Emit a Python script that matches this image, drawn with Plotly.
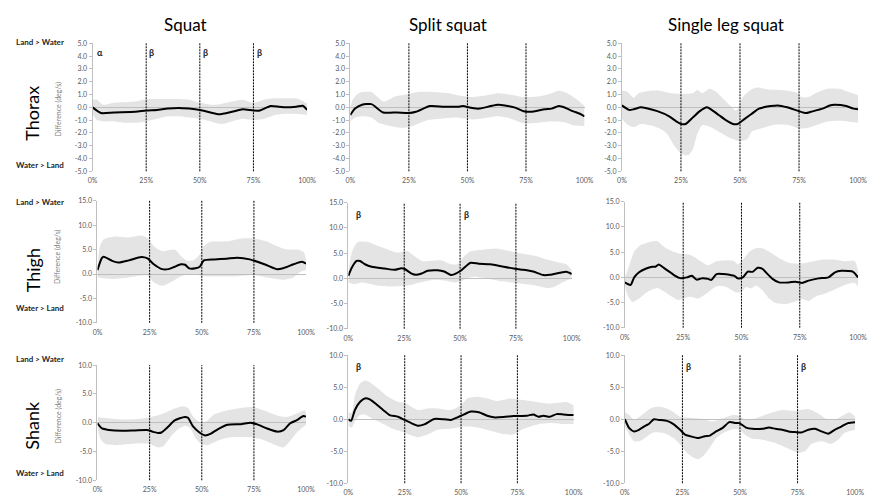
import plotly.graph_objects as go

# ---------------- DATA ----------------
COLUMNS = ["Squat", "Split squat", "Single leg squat"]
ROWS = ["Thorax", "Thigh", "Shank"]
X_TICKS = [0, 25, 50, 75, 100]
X_TICK_TEXT = ["0%", "25%", "50%", "75%", "100%"]
PHASE_LINES = [25, 50, 75]
Y_TICKS_THORAX = [-5, -4, -3, -2, -1, 0, 1, 2, 3, 4, 5]
Y_TICKS_THIGH = [-10, -5, 0, 5, 10, 15]
Y_TICKS_SHANK = [-10, -5, 0, 5, 10]

# Thorax - Squat
THX_SQ_MEAN_X = [0, 4, 10, 20, 25, 30, 35, 40, 45, 50, 55, 59, 65, 70, 75, 78, 83, 87, 90, 95, 98, 100]
THX_SQ_MEAN_Y = [0, -0.45, -0.4, -0.35, -0.25, -0.2, -0.1, -0.05, -0.1, -0.2, -0.4, -0.55, -0.35, -0.15, -0.25, -0.25, 0.1, 0.05, 0.0, 0.05, 0.12, -0.2]
THX_SQ_UP_X = [0, 2, 5, 10, 20, 25, 30, 35, 40, 45, 50, 55, 58, 65, 70, 75, 80, 85, 90, 95, 100]
THX_SQ_UP_Y = [0.6, 0.6, 0.2, 0.35, 0.45, 0.65, 0.65, 0.65, 0.65, 0.6, 0.35, 0.2, 0.2, 0.45, 0.6, 0.35, 0.6, 0.7, 0.7, 0.7, 0.3]
THX_SQ_LO_X = [0, 2, 5, 10, 15, 20, 25, 30, 35, 40, 45, 50, 55, 60, 65, 70, 75, 80, 85, 90, 95, 100]
THX_SQ_LO_Y = [-0.5, -1.0, -1.1, -1.1, -1.2, -1.2, -1.1, -0.9, -0.7, -0.7, -0.8, -0.9, -1.1, -1.3, -1.1, -0.9, -1.0, -0.9, -0.6, -0.5, -0.5, -0.6]

# Thorax - Split squat
THX_SPL_MEAN_X = [0, 2, 5, 9, 14, 20, 25, 28, 34, 40, 46, 48, 52, 55, 60, 63, 66, 70, 74, 77, 83, 86, 89, 92, 95, 98, 100]
THX_SPL_MEAN_Y = [-0.6, -0.1, 0.2, 0.25, -0.4, -0.4, -0.45, -0.35, 0.1, 0.05, 0.05, 0.1, -0.05, -0.1, 0.1, 0.2, 0.15, 0.0, -0.3, -0.35, -0.15, -0.1, 0.1, -0.05, -0.3, -0.5, -0.7]
THX_SPL_UP_X = [0, 1, 3, 5, 9, 11, 14, 16, 19, 25, 29, 35, 42, 47, 52, 57, 63, 68, 74, 80, 85, 89, 92, 96, 100]
THX_SPL_UP_Y = [0.0, 0.6, 1.05, 1.2, 1.2, 0.9, 0.45, 0.55, 0.85, 1.05, 1.2, 1.2, 1.1, 0.9, 0.8, 0.9, 1.1, 1.0, 0.8, 0.85, 1.05, 1.3, 1.15, 0.7, 0.1]
THX_SPL_LO_X = [0, 2, 5, 9, 12, 17, 22, 26, 32, 38, 45, 52, 57, 63, 68, 74, 80, 85, 91, 95, 100]
THX_SPL_LO_Y = [-1.1, -0.8, -0.7, -0.8, -1.2, -1.45, -1.6, -1.5, -1.05, -0.9, -0.8, -0.95, -0.85, -0.7, -0.85, -1.25, -1.2, -1.1, -1.15, -1.4, -1.45]

# Thorax - Single leg squat
THX_SLS_MEAN_X = [0, 3, 5, 8, 10, 15, 20, 23, 25, 27, 30, 33, 36, 38, 41, 44, 47, 49, 52, 55, 58, 60, 63, 66, 70, 75, 78, 80, 85, 88, 90, 95, 98, 100]
THX_SLS_MEAN_Y = [0.15, -0.2, -0.15, 0.0, -0.05, -0.3, -0.7, -1.1, -1.3, -1.3, -0.8, -0.3, 0.0, -0.2, -0.6, -1.0, -1.3, -1.3, -0.9, -0.5, -0.1, 0.0, 0.1, 0.15, 0.0, -0.3, -0.45, -0.35, -0.1, 0.15, 0.2, 0.1, -0.1, -0.15]
THX_SLS_UP_X = [0, 2, 5, 7, 12, 16, 21, 25, 30, 32, 34, 37, 40, 43, 46, 48, 49, 51, 54, 57, 62, 68, 74, 76, 79, 82, 87, 92, 96, 100]
THX_SLS_UP_Y = [1.3, 1.25, 0.75, 1.1, 1.3, 1.3, 1.1, 1.05, 1.1, 1.35, 1.1, 1.45, 1.2, 0.65, 0.1, -0.25, -0.15, 0.75, 1.3, 1.55, 1.4, 1.35, 1.15, 0.8, 0.8, 1.1, 1.45, 1.45, 1.2, 0.95]
THX_SLS_LO_X = [0, 2, 5, 8, 12, 16, 19, 22, 25, 28, 30, 32, 34, 37, 41, 46, 50, 53, 55, 60, 65, 71, 75, 79, 83, 87, 93, 97, 100]
THX_SLS_LO_Y = [-0.9, -1.3, -1.55, -1.3, -1.4, -1.65, -2.05, -2.95, -3.6, -3.75, -3.3, -2.05, -1.4, -1.5, -1.9, -2.4, -2.65, -2.5, -1.9, -1.6, -1.35, -1.4, -1.65, -1.6, -1.35, -1.1, -1.05, -1.15, -1.2]

# Thigh - Squat
THI_SQ_MEAN_X = [0, 2, 3, 7, 10, 15, 21, 24, 27, 31, 34, 37, 40, 42, 44, 47, 49, 51, 56, 62, 67, 73, 80, 86, 89, 94, 98, 100]
THI_SQ_MEAN_Y = [0.8, 3.2, 3.55, 2.7, 2.35, 2.8, 3.5, 3.2, 2.0, 1.0, 1.0, 1.5, 2.0, 1.9, 1.15, 1.2, 1.5, 2.8, 3.0, 3.15, 3.35, 3.0, 2.0, 1.0, 1.2, 2.0, 2.5, 2.15]
THI_SQ_UP_X = [0, 1, 3, 8, 15, 21, 24, 27, 31, 37, 40, 43, 46, 49, 51, 54, 62, 69, 75, 81, 86, 91, 96, 99, 100]
THI_SQ_UP_Y = [1.7, 5.4, 7.1, 7.7, 7.5, 7.9, 7.4, 5.7, 4.7, 5.0, 3.7, 2.7, 2.8, 4.0, 5.7, 6.6, 6.7, 7.3, 7.3, 6.7, 5.7, 5.0, 5.0, 4.4, 2.7]
THI_SQ_LO_X = [0, 4, 8, 15, 21, 24, 27, 30, 32, 35, 39, 42, 46, 49, 53, 65, 75, 81, 86, 89, 94, 97, 100]
THI_SQ_LO_Y = [-0.7, -0.9, -1.0, -0.7, -0.3, -0.3, -1.7, -2.35, -2.35, -1.7, -0.7, -0.2, -0.2, -0.3, -0.5, -0.5, -0.2, -0.7, -1.0, -1.2, -0.7, 0.35, 0.8]

# Thigh - Split squat
THI_SPL_MEAN_X = [0, 1.5, 3.7, 5.2, 7.4, 10.4, 16.3, 20.7, 23.7, 25.1, 28.1, 30.3, 32.5, 35.5, 39.9, 42.9, 45.9, 47.3, 50.3, 54.7, 58.4, 63.6, 69.5, 74, 78.4, 82.8, 87.3, 90.2, 94.7, 97.6, 100]
THI_SPL_MEAN_Y = [0.5, 2.1, 3.45, 3.45, 2.8, 2.3, 1.95, 1.7, 2.0, 1.9, 1.0, 0.7, 0.9, 1.5, 1.6, 1.35, 0.65, 0.8, 1.5, 3.1, 2.9, 2.8, 2.3, 1.95, 1.7, 1.35, 0.65, 0.7, 1.1, 1.3, 0.85]
THI_SPL_UP_X = [0, 1.5, 3.7, 5.2, 8.9, 13.3, 17.8, 22.2, 26.6, 29.6, 33.3, 37, 41.4, 45.9, 48.8, 51.8, 54.7, 60.7, 66.6, 72.5, 78.4, 84.3, 90.2, 94.7, 97.6, 100]
THI_SPL_UP_Y = [1.35, 5.1, 7.0, 7.3, 7.2, 6.4, 5.7, 5.1, 5.4, 4.4, 3.4, 3.5, 3.6, 2.8, 2.8, 4.4, 5.4, 5.7, 5.9, 5.4, 4.9, 4.4, 3.6, 3.1, 2.8, 1.6]
THI_SPL_LO_X = [0, 3, 5.9, 8.9, 13.3, 19.2, 25.1, 29.6, 34, 38.5, 42.9, 47.3, 50.3, 53.3, 56.2, 60.7, 66.6, 72.5, 78.4, 84.3, 88.8, 91.7, 94.7, 97.6, 100]
THI_SPL_LO_Y = [-0.8, -1.1, -0.8, -1.0, -1.45, -1.6, -1.45, -1.1, -0.65, -0.3, -0.45, -0.8, -0.65, 0.05, 0.3, 0.05, -0.45, -0.8, -1.1, -1.45, -1.9, -1.75, -1.1, -0.45, -0.1]

# Thigh - Single leg squat
THI_SLS_MEAN_X = [0, 1.1, 2.5, 4, 6.1, 8.9, 11.7, 13.1, 14.5, 16.7, 19.5, 21.6, 23.7, 26.6, 28.7, 30.8, 32.9, 35.7, 37.1, 39.3, 42.1, 44.9, 47, 48.4, 50.6, 52.7, 54.8, 56.9, 59, 61.2, 63.3, 66.1, 70.3, 73.2, 76, 78.8, 83.1, 87.3, 90.1, 92.9, 95.8, 97.9, 100]
THI_SLS_MEAN_Y = [-1.0, -1.3, -1.5, 0.0, 1.0, 1.7, 2.1, 2.1, 2.55, 1.9, 1.0, 0.3, -0.15, 0.0, 0.3, -0.45, -0.2, -0.3, -0.5, 0.65, 0.65, 0.5, 0.3, -0.2, 0.0, 1.15, 1.1, 1.9, 1.7, 0.65, -0.3, -1.0, -1.0, -0.85, -1.1, -0.65, -0.2, 0.0, 1.0, 1.3, 1.25, 1.1, 0.0]
THI_SLS_UP_X = [0, 1.8, 4, 6.8, 11, 13.8, 16.7, 20.9, 23.7, 28, 32.2, 35.7, 39.3, 44.9, 47, 48.4, 50.6, 53.4, 56.2, 59, 61.9, 66.1, 70.3, 74.6, 78.8, 84.5, 90.1, 94.4, 98.6, 100]
THI_SLS_UP_Y = [0, 2.25, 5.1, 6.4, 7.05, 7.2, 6.1, 5.1, 4.7, 4.5, 3.3, 2.4, 3.2, 3.4, 3.2, 2.55, 3.5, 5.1, 5.8, 5.8, 5.1, 3.85, 2.9, 2.7, 3.0, 3.5, 3.5, 3.2, 3.2, 1.3]
THI_SLS_LO_X = [0, 1.1, 3.2, 6.1, 9.6, 13.8, 16.7, 20.2, 23, 25.1, 28, 31.5, 35, 39.3, 43.5, 47.7, 49.9, 52, 54.1, 56.2, 59, 61.9, 64.7, 68.9, 73.2, 76, 78.8, 81.6, 85.9, 90.1, 94.4, 98.6, 100]
THI_SLS_LO_Y = [-1.6, -3.5, -4.9, -4.2, -2.9, -2.1, -2.75, -3.85, -4.5, -4.2, -3.85, -4.2, -3.2, -1.75, -1.9, -3.0, -2.9, -1.9, -2.2, -1.6, -2.55, -4.2, -5.1, -5.3, -4.8, -4.3, -4.7, -3.85, -3.2, -2.35, -1.5, -1.1, -1.75]

# Shank - Squat
SHK_SQ_MEAN_X = [0, 2.2, 5.4, 11.7, 18, 24.4, 26.7, 29.1, 30.7, 33.9, 37, 41.8, 43.4, 45.7, 48.9, 51.3, 54.4, 57.6, 62.3, 68.7, 73.4, 76.6, 81.3, 86.1, 89.2, 92.4, 95.6, 98.7, 100]
SHK_SQ_MEAN_Y = [-0.1, -1.0, -1.25, -1.4, -1.35, -1.3, -1.6, -1.8, -1.7, -0.7, 0.4, 1.0, 0.85, -0.6, -1.7, -2.2, -1.9, -1.15, -0.35, -0.25, 0.0, -0.3, -1.0, -1.55, -1.3, -0.1, 0.45, 1.15, 1.05]
SHK_SQ_UP_X = [0, 2.2, 7, 14.9, 22.8, 27.5, 32.3, 37, 41, 43.4, 45.7, 48.1, 50.5, 52.8, 56, 62.3, 68.7, 75, 79.7, 86.1, 90.8, 95.6, 99.5, 100]
SHK_SQ_UP_Y = [1.0, 0.85, 0.7, 0.55, 0.75, 1.15, 1.7, 2.45, 2.85, 2.55, 1.15, 0.3, 0.0, 0.4, 1.45, 2.15, 2.55, 2.7, 2.15, 1.25, 1.0, 1.6, 2.15, 1.4]
SHK_SQ_LO_X = [0, 1.4, 3.8, 8.5, 14.9, 21.2, 25.2, 29.1, 31.5, 35.4, 38.6, 41.8, 44.2, 47.3, 49.7, 52.8, 57.6, 63.9, 73.4, 79.7, 86.1, 89.2, 92.4, 95.6, 98.7, 100]
SHK_SQ_LO_Y = [-0.85, -2.85, -3.7, -3.9, -3.7, -3.55, -3.7, -4.3, -4.1, -2.3, -1.15, -0.55, -0.85, -2.85, -3.7, -3.9, -3.15, -2.55, -2.55, -3.0, -4.0, -4.3, -3.15, -1.7, -0.7, -0.3]

# Shank - Split squat
SHK_SPL_MEAN_X = [0, 1.2, 2.9, 5.1, 7.3, 9.5, 12.5, 15.4, 18.3, 22, 24.9, 27.9, 30.8, 33.7, 38.1, 42.5, 45.5, 48.4, 51.3, 54.3, 57.9, 61.6, 64.5, 68.9, 73.3, 79.2, 82.1, 84.3, 86.5, 89.4, 92.4, 95.3, 98.2, 100]
SHK_SPL_MEAN_Y = [0, -0.25, 1.45, 2.7, 3.25, 3.1, 2.3, 1.45, 0.65, 0.4, -0.1, -0.6, -1.0, -0.8, 0.05, 0.0, -0.1, 0.3, 0.75, 1.2, 1.1, 0.55, 0.3, 0.35, 0.5, 0.55, 0.75, 0.4, 0.55, 0.4, 0.8, 0.75, 0.65, 0.65]
SHK_SPL_UP_X = [0, 1.5, 2.9, 5.1, 7.3, 9.5, 13.2, 17.6, 22, 24.9, 27.9, 30.8, 35.2, 39.6, 45.5, 49.9, 52.8, 57.2, 61.6, 66, 71.8, 77.7, 83.6, 89.4, 93.8, 96.8, 100]
SHK_SPL_UP_Y = [1.1, 1.0, 3.75, 5.55, 6.05, 5.8, 4.8, 3.5, 2.7, 2.6, 1.95, 1.45, 1.7, 1.7, 1.45, 2.2, 3.25, 3.5, 3.25, 2.85, 3.25, 3.0, 2.7, 2.45, 2.6, 2.7, 2.2]
SHK_SPL_LO_X = [0, 1.5, 2.9, 5.1, 7.3, 10.3, 14.7, 19.1, 23.5, 27.9, 30.8, 35.2, 39.6, 45.5, 51.3, 57.2, 63.1, 68.9, 73.3, 77.7, 83.6, 89.4, 95.3, 100]
SHK_SPL_LO_Y = [-1.0, -1.3, -0.35, 0.65, 0.75, 0.15, -0.6, -1.4, -1.9, -2.5, -2.8, -2.4, -1.65, -1.5, -1.15, -1.3, -1.8, -2.3, -2.4, -1.5, -0.85, -0.6, -0.75, -0.75]

# Shank - Single leg squat
SHK_SLS_MEAN_X = [0, 1.9, 4, 6.1, 9, 10.4, 12.6, 14.7, 18.3, 21.1, 24, 26.1, 28.3, 31.9, 34.7, 36.9, 39, 42.6, 45.4, 48.3, 49.7, 52.6, 55.4, 59.7, 62.6, 65.4, 68.3, 71.1, 74, 76.9, 79.7, 82.6, 85.4, 88.3, 91.1, 94, 96.9, 100]
SHK_SLS_MEAN_Y = [0, -1.4, -1.9, -1.65, -1.0, -0.75, 0.0, -0.1, -0.25, -0.75, -1.65, -2.4, -2.65, -2.95, -2.65, -2.55, -2.05, -1.3, -0.45, -0.6, -0.6, -1.3, -1.5, -1.5, -1.3, -1.5, -1.65, -1.9, -2.0, -2.05, -1.65, -1.5, -1.9, -2.25, -1.65, -1.15, -0.6, -0.45]
SHK_SLS_UP_X = [0, 1.9, 4, 6.9, 11.1, 14, 16.9, 19.7, 24, 28.3, 34, 38.3, 42.6, 46.9, 49.7, 52.6, 56.9, 62.6, 68.3, 74, 79.7, 84, 88.3, 91.1, 95.4, 97.6, 100]
SHK_SLS_UP_Y = [1.1, 0.65, -0.1, 0.55, 1.7, 1.95, 1.85, 1.45, 0.4, 0.25, 0.05, -0.35, 0.15, 0.65, 0.55, -0.1, 0.15, 0.9, 1.45, 1.3, 1.6, 0.9, -0.1, -0.1, 0.75, 1.1, 0.4]
SHK_SLS_LO_X = [0, 1.9, 4, 6.9, 9.7, 12.6, 16.9, 21.1, 24, 26.9, 29.7, 31.9, 34, 36.9, 39.7, 42.6, 46.9, 49.7, 52.6, 55.4, 59.7, 65.4, 71.1, 75.4, 78.3, 81.1, 85.4, 89.7, 92.6, 95.4, 100]
SHK_SLS_LO_Y = [-1.15, -2.4, -3.45, -3.35, -2.65, -2.05, -2.15, -2.95, -3.95, -5.25, -6.0, -6.25, -5.75, -4.45, -2.95, -2.15, -1.55, -1.65, -2.55, -3.05, -3.2, -3.7, -4.6, -5.25, -5.0, -3.85, -3.45, -3.85, -3.2, -2.15, -1.65]

# Significance markers: (row, col, x, y, symbol)
MARKERS = [
    (0, 0, 1.0, 4.3, "α"), (0, 0, 25.6, 4.3, "β"), (0, 0, 50.6, 4.3, "β"), (0, 0, 75.6, 4.3, "β"),
    (1, 1, 2.5, 12.6, "β"), (1, 1, 50.8, 12.6, "β"),
    (2, 1, 2.5, 8.2, "β"),
    (2, 2, 25.6, 8.2, "β"), (2, 2, 75.6, 8.2, "β"),
]

# ---------------- LAYOUT ----------------
W, H = 871, 499
FONT = "Lato"
# pixel boxes of each plot area: (left, right, top, bottom)
BOXES = [
    [(89, 307, 39, 169), (351, 589, 39, 169), (627, 867, 39, 169)],
    [(94, 306, 199, 323), (349, 576, 201, 329), (630, 867, 200, 328)],
    [(94, 306, 366, 483), (349, 578, 356, 486), (630, 864, 356, 486)],
]
Y_RANGES = [(-5, 5), (-10, 15), (-10, 10)]
Y_TICKS = [Y_TICKS_THORAX, Y_TICKS_THIGH, Y_TICKS_SHANK]

SERIES = [
    [(THX_SQ_MEAN_X, THX_SQ_MEAN_Y, THX_SQ_UP_X, THX_SQ_UP_Y, THX_SQ_LO_X, THX_SQ_LO_Y),
     (THX_SPL_MEAN_X, THX_SPL_MEAN_Y, THX_SPL_UP_X, THX_SPL_UP_Y, THX_SPL_LO_X, THX_SPL_LO_Y),
     (THX_SLS_MEAN_X, THX_SLS_MEAN_Y, THX_SLS_UP_X, THX_SLS_UP_Y, THX_SLS_LO_X, THX_SLS_LO_Y)],
    [(THI_SQ_MEAN_X, THI_SQ_MEAN_Y, THI_SQ_UP_X, THI_SQ_UP_Y, THI_SQ_LO_X, THI_SQ_LO_Y),
     (THI_SPL_MEAN_X, THI_SPL_MEAN_Y, THI_SPL_UP_X, THI_SPL_UP_Y, THI_SPL_LO_X, THI_SPL_LO_Y),
     (THI_SLS_MEAN_X, THI_SLS_MEAN_Y, THI_SLS_UP_X, THI_SLS_UP_Y, THI_SLS_LO_X, THI_SLS_LO_Y)],
    [(SHK_SQ_MEAN_X, SHK_SQ_MEAN_Y, SHK_SQ_UP_X, SHK_SQ_UP_Y, SHK_SQ_LO_X, SHK_SQ_LO_Y),
     (SHK_SPL_MEAN_X, SHK_SPL_MEAN_Y, SHK_SPL_UP_X, SHK_SPL_UP_Y, SHK_SPL_LO_X, SHK_SPL_LO_Y),
     (SHK_SLS_MEAN_X, SHK_SLS_MEAN_Y, SHK_SLS_UP_X, SHK_SLS_UP_Y, SHK_SLS_LO_X, SHK_SLS_LO_Y)],
]


def px(x):
    return x / W


def py(y):
    return 1 - y / H


fig = go.Figure()
layout = dict(
    width=W, height=H, margin=dict(l=0, r=0, t=0, b=0, pad=0),
    paper_bgcolor="white", plot_bgcolor="white", showlegend=False,
    font=dict(family=FONT, color="#595959"),
)
shapes = []
annotations = []

for r in range(3):
    for c in range(3):
        k = r * 3 + c + 1
        xn = "x" if k == 1 else f"x{k}"
        yn = "y" if k == 1 else f"y{k}"
        mx, my, ux, uy, lx, ly = SERIES[r][c]
        fig.add_trace(go.Scatter(x=lx, y=ly, mode="lines", xaxis=xn, yaxis=yn,
                                 line=dict(width=0, shape="spline", smoothing=0.6),
                                 hoverinfo="skip"))
        fig.add_trace(go.Scatter(x=ux, y=uy, mode="lines", xaxis=xn, yaxis=yn,
                                 line=dict(width=0, shape="spline", smoothing=0.6),
                                 fill="tonexty", fillcolor="rgba(191,191,191,0.42)",
                                 hoverinfo="skip"))
        fig.add_trace(go.Scatter(x=mx, y=my, mode="lines", xaxis=xn, yaxis=yn,
                                 line=dict(color="black", width=2, shape="spline", smoothing=0.6)))
        L, R, T, B = BOXES[r][c]
        xkey = "xaxis" if k == 1 else f"xaxis{k}"
        ykey = "yaxis" if k == 1 else f"yaxis{k}"
        layout[xkey] = dict(domain=[px(L), px(R)], range=[0, 100], anchor=yn,
                            showgrid=False, zeroline=False, showline=False, ticks="",
                            tickvals=X_TICKS, ticktext=X_TICK_TEXT, ticklabelstandoff=4,
                            tickfont=dict(size=7, color="#595959", family=FONT))
        yt = Y_TICKS[r]
        layout[ykey] = dict(domain=[py(B), py(T)], range=list(Y_RANGES[r]), anchor=xn,
                            showgrid=False, zeroline=True, zerolinecolor="#bfbfbf",
                            zerolinewidth=1, showline=True, linecolor="#bfbfbf",
                            linewidth=1, ticks="outside", ticklen=3, tickcolor="#bfbfbf",
                            tickvals=yt, ticktext=[f"{v:.1f}" for v in yt],
                            tickfont=dict(size=7, color="#595959", family=FONT))
        for xv in PHASE_LINES:
            shapes.append(dict(type="line", xref=xn, yref=f"{yn} domain", x0=xv, x1=xv,
                               y0=0, y1=1, line=dict(color="black", width=1, dash="2px,1px")))


def note(text, x, y, size, color, angle=0, xanchor="center"):
    annotations.append(dict(text=text, x=x, y=y, xref="paper", yref="paper",
                            showarrow=False, textangle=angle, xanchor=xanchor,
                            yanchor="middle", font=dict(size=size, color=color, family=FONT)))


# Column titles
for c, title in enumerate(COLUMNS):
    note(title, px([183, 450, 733][c]), py(20), 17, "black")

# Row labels and direction notes
ROW_CENTERS = [110, 270, 427]
DIFF_CENTERS = [106, 256, 418]
LAND_Y = [38, 200, 360]
WATER_Y = [163, 308, 476]
for r, name in enumerate(ROWS):
    note(name, px(28), py(ROW_CENTERS[r]), 18, "black", angle=-90)
    note("Difference (deg/s)", px(54), py(DIFF_CENTERS[r]), 7, "#7f7f7f", angle=-90)
    note("<b>Land > Water</b>", px(36), py(LAND_Y[r]), 8, "#262626")
    note("<b>Water > Land</b>", px(36), py(WATER_Y[r]), 8, "#262626")

# Significance markers
for r, c, xv, yv, sym in MARKERS:
    k = r * 3 + c + 1
    xn = "x" if k == 1 else f"x{k}"
    yn = "y" if k == 1 else f"y{k}"
    annotations.append(dict(text=f"<b>{sym}</b>", x=xv, y=yv, xref=xn, yref=yn,
                            showarrow=False, xanchor="left", yanchor="middle",
                            font=dict(size=9, color="#1a1a1a", family=FONT)))

layout["shapes"] = shapes
layout["annotations"] = annotations
fig.update_layout(**layout)
fig.write_html("out.html", config={"displayModeBar": False},
               post_script="document.body.style.margin='0';document.body.style.padding='0';"
                           "document.documentElement.style.overflow='hidden';")
